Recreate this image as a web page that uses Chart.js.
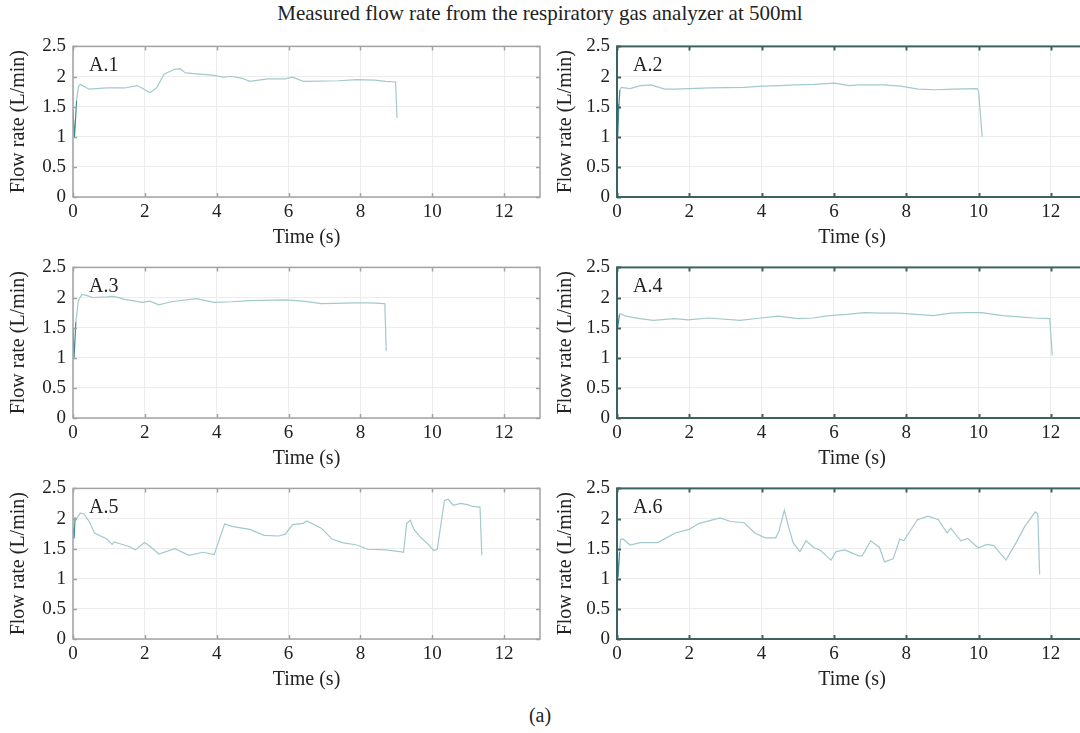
<!DOCTYPE html>
<html>
<head>
<meta charset="utf-8">
<script src="https://cdn.jsdelivr.net/npm/chart.js@4.4.1/dist/chart.umd.min.js"></script>
<style>
  html, body { margin: 0; padding: 0; background: #fff; width: 1080px; height: 733px; overflow: hidden; }
  canvas { position: absolute; }
  .txt { position: absolute; left: 0; width: 1080px; text-align: center;
         font: 20px "Liberation Serif", "Times New Roman", serif; color: #222; line-height: 24px; }
</style>
</head>
<body>
<div class="txt" style="top:1px;font-size:21px">Measured flow rate from the respiratory gas analyzer at 500ml</div>
<div class="txt" style="top:703px">(a)</div>

<canvas id="c1" width="545" height="222"></canvas>
<canvas id="c2" width="545" height="222"></canvas>
<canvas id="c3" width="545" height="222"></canvas>
<canvas id="c4" width="545" height="222"></canvas>
<canvas id="c5" width="545" height="222"></canvas>
<canvas id="c6" width="545" height="222"></canvas>

<script>
// panel names
const panelLabels = ['A.1', 'A.2', 'A.3', 'A.4', 'A.5', 'A.6'];

// axis ticks
const xTicks = [0, 2, 4, 6, 8, 10, 12];
const yTicks = [0, 0.5, 1, 1.5, 2, 2.5];

// A.1
const a1Time = [0, 0.04, 0.1, 0.15, 0.2, 0.45, 0.94, 1.44, 1.79, 1.94, 2.14, 2.34, 2.53, 2.83, 2.98, 3.13, 3.53, 3.93, 4.17, 4.42, 4.72, 4.92, 5.42, 5.91, 6.11, 6.41, 7.4, 7.9, 8.4, 8.7, 8.98, 9.02];
const a1Flow = [1.45, 0.98, 1.6, 1.83, 1.87, 1.79, 1.81, 1.81, 1.85, 1.80, 1.73, 1.82, 2.04, 2.12, 2.13, 2.06, 2.04, 2.02, 1.99, 2.00, 1.97, 1.92, 1.96, 1.96, 1.99, 1.92, 1.93, 1.95, 1.94, 1.92, 1.91, 1.31];

// A.2
const a2Time = [0, 0.02, 0.05, 0.08, 0.12, 0.36, 0.65, 0.94, 1.32, 1.61, 2.57, 3.53, 4.0, 4.49, 4.97, 5.45, 6.02, 6.41, 6.7, 7.37, 7.85, 8.33, 8.81, 9.29, 9.96, 10.0, 10.1];
const a2Flow = [1.55, 1.0, 1.5, 1.78, 1.82, 1.80, 1.85, 1.86, 1.79, 1.79, 1.81, 1.82, 1.84, 1.85, 1.86, 1.87, 1.89, 1.85, 1.86, 1.86, 1.84, 1.79, 1.78, 1.79, 1.80, 1.77, 1.0];

// A.3
const a3Time = [0, 0.03, 0.08, 0.15, 0.25, 0.35, 0.55, 0.94, 1.14, 1.44, 1.94, 2.14, 2.39, 2.73, 3.43, 3.93, 4.42, 4.92, 5.91, 6.41, 6.91, 7.9, 8.3, 8.65, 8.68, 8.72];
const a3Flow = [1.5, 1.0, 1.6, 1.95, 2.05, 2.04, 2.0, 2.01, 2.02, 1.97, 1.92, 1.94, 1.88, 1.93, 1.98, 1.92, 1.93, 1.95, 1.96, 1.94, 1.90, 1.91, 1.91, 1.90, 1.90, 1.11];

// A.4
const a4Time = [0, 0.03, 0.07, 0.1, 0.25, 0.63, 1.01, 1.59, 1.97, 2.54, 3.4, 3.97, 4.45, 5.02, 5.41, 5.88, 6.36, 6.84, 7.32, 7.79, 8.27, 8.75, 9.23, 9.7, 10.09, 10.66, 11.14, 11.52, 11.97, 12.04];
const a4Flow = [1.62, 1.55, 1.72, 1.73, 1.69, 1.65, 1.62, 1.65, 1.63, 1.66, 1.62, 1.66, 1.69, 1.65, 1.66, 1.70, 1.72, 1.75, 1.74, 1.74, 1.72, 1.70, 1.74, 1.75, 1.75, 1.70, 1.68, 1.66, 1.65, 1.04];

// A.5
const a5Time = [0, 0.03, 0.06, 0.1, 0.2, 0.3, 0.45, 0.6, 0.94, 1.09, 1.14, 1.54, 1.74, 1.99, 2.14, 2.39, 2.83, 3.23, 3.63, 3.93, 4.22, 4.42, 4.92, 5.32, 5.72, 5.91, 6.11, 6.41, 6.51, 6.91, 7.21, 7.5, 7.9, 8.2, 8.7, 9.1, 9.2, 9.29, 9.39, 9.49, 9.69, 9.89, 10.04, 10.14, 10.34, 10.44, 10.59, 10.79, 10.98, 11.13, 11.33, 11.38];
const a5Flow = [1.85, 1.67, 2.02, 2.0, 2.09, 2.08, 1.95, 1.76, 1.66, 1.57, 1.61, 1.54, 1.48, 1.60, 1.54, 1.41, 1.50, 1.39, 1.44, 1.40, 1.91, 1.87, 1.82, 1.72, 1.71, 1.74, 1.90, 1.92, 1.96, 1.84, 1.66, 1.60, 1.56, 1.49, 1.48, 1.45, 1.44, 1.92, 1.97, 1.82, 1.68, 1.57, 1.47, 1.49, 2.30, 2.32, 2.22, 2.25, 2.23, 2.20, 2.19, 1.39];

// A.6
const a6Time = [0, 0.03, 0.07, 0.1, 0.17, 0.36, 0.65, 1.13, 1.61, 1.99, 2.28, 2.85, 3.14, 3.52, 3.81, 4.1, 4.39, 4.48, 4.63, 4.72, 4.87, 5.06, 5.23, 5.44, 5.63, 5.92, 6.06, 6.3, 6.69, 6.78, 7.02, 7.26, 7.4, 7.64, 7.82, 7.93, 8.31, 8.6, 8.89, 9.13, 9.23, 9.51, 9.7, 9.99, 10.23, 10.42, 10.76, 11.04, 11.28, 11.57, 11.64, 11.69];
const a6Flow = [1.55, 1.02, 1.45, 1.65, 1.66, 1.56, 1.60, 1.60, 1.76, 1.82, 1.92, 2.01, 1.95, 1.93, 1.76, 1.68, 1.68, 1.79, 2.14, 1.92, 1.60, 1.45, 1.63, 1.52, 1.47, 1.31, 1.45, 1.48, 1.38, 1.38, 1.63, 1.52, 1.28, 1.33, 1.66, 1.63, 1.98, 2.04, 1.98, 1.76, 1.84, 1.63, 1.67, 1.51, 1.57, 1.55, 1.31, 1.60, 1.87, 2.11, 2.08, 1.07];

const times = [a1Time, a2Time, a3Time, a4Time, a5Time, a6Time];
const flows = [a1Flow, a2Flow, a3Flow, a4Flow, a5Flow, a6Flow];

Chart.defaults.font.family = '"Liberation Serif", "Times New Roman", serif';
Chart.defaults.font.size = 19;
Chart.defaults.color = '#222';

// box round the plot, small inward ticks and the panel name
const framePlugin = {
  id: 'frame',
  afterDraw(chart, args, opts) {
    const { ctx, chartArea: a, scales: { x, y } } = chart;
    ctx.save();
    ctx.strokeStyle = opts.color;
    ctx.lineWidth = opts.width;
    ctx.beginPath();
    x.ticks.forEach(t => {
      const px = Math.round(x.getPixelForValue(t.value)) + 0.5;
      ctx.moveTo(px, a.bottom); ctx.lineTo(px, a.bottom - 4);
      ctx.moveTo(px, a.top); ctx.lineTo(px, a.top + 4);
    });
    y.ticks.forEach(t => {
      const py = Math.round(y.getPixelForValue(t.value)) + 0.5;
      ctx.moveTo(a.left, py); ctx.lineTo(a.left + 4, py);
      ctx.moveTo(a.right, py); ctx.lineTo(a.right - 4, py);
    });
    ctx.stroke();
    ctx.strokeRect(a.left, a.top, a.right - a.left, a.bottom - a.top);
    ctx.fillStyle = '#222';
    ctx.font = '20px "Liberation Serif", serif';
    ctx.textBaseline = 'middle';
    ctx.textAlign = 'left';
    ctx.fillText(opts.label, a.left + 16, a.top + 19);
    ctx.restore();
  }
};

const rowTops = [42, 263, 484];

panelLabels.forEach((name, i) => {
  const col = i % 2;
  const row = Math.floor(i / 2);
  const canvas = document.getElementById('c' + (i + 1));
  canvas.style.left = (col ? 545 : 0) + 'px';
  canvas.style.top = (rowTops[row] - 14) + 'px';

  const pts = times[i].map((t, k) => ({ x: t, y: flows[i][k] }));

  new Chart(canvas, {
    type: 'line',
    data: {
      datasets: [{
        data: pts,
        borderColor: '#a2c9cc',
        borderWidth: 1.2,
        pointRadius: 0,
        tension: 0,
        segment: {
          borderColor: c => c.p0.parsed.x < 0.06 ? '#3f8c90' : undefined
        }
      }]
    },
    options: {
      responsive: false,
      animation: false,
      layout: { padding: { top: 14, right: col ? 3 : 5, bottom: 0, left: 0 } },
      plugins: {
        legend: { display: false },
        tooltip: { enabled: false },
        frame: {
          label: name,
          color: col ? '#3e6262' : '#a3a3a3',
          width: col ? 2 : 1.5
        }
      },
      scales: {
        x: {
          type: 'linear',
          min: 0,
          max: 13,
          afterFit: s => { s.height = 53; },
          afterBuildTicks: s => { s.ticks = xTicks.map(v => ({ value: v })); },
          ticks: { padding: 4, color: '#222', callback: v => String(v) },
          grid: { color: '#ececec', drawTicks: false },
          border: { display: false },
          title: { display: true, text: 'Time (s)', color: '#222', font: { size: 20 }, padding: { top: 0, bottom: 0 } }
        },
        y: {
          min: 0,
          max: 2.5,
          afterFit: s => { s.width = col ? 72 : 73; },
          afterBuildTicks: s => { s.ticks = yTicks.map(v => ({ value: v })); },
          ticks: { padding: 7, color: '#222', callback: v => String(v) },
          grid: { color: '#ececec', drawTicks: false },
          border: { display: false },
          title: { display: true, text: 'Flow rate (L/min)', color: '#222', font: { size: 20 }, padding: { top: col ? 9 : 7, bottom: 0 } }
        }
      }
    },
    plugins: [framePlugin]
  });
});
</script>
</body>
</html>
